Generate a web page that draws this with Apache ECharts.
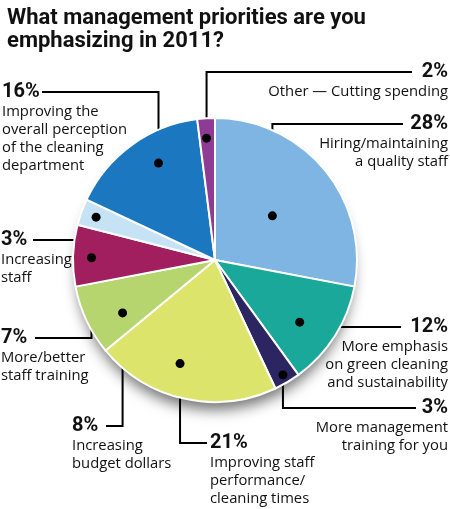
<!DOCTYPE html>
<html>
<head>
<meta charset="utf-8">
<script src="https://cdn.jsdelivr.net/npm/echarts@6/dist/echarts.min.js"></script>
<style>
  html, body { margin: 0; background: #fff; }
  #chart { width: 450px; height: 509px; }
</style>
</head>
<body>
<div id="chart"></div>
<script>
// slices, clockwise from 12 o'clock
const categories = [
  "Hiring/maintaining\na quality staff",
  "More emphasis\non green cleaning\nand sustainability",
  "More management\ntraining for you",
  "Improving staff\nperformance/\ncleaning times",
  "Increasing\nbudget dollars",
  "More/better\nstaff training",
  "Increasing\nstaff",
  "Improving the\noverall perception\nof the cleaning\ndepartment",
  "Other \u2014 Cutting spending"
];
const percents = [28, 12, 3, 21, 8, 7, 3, 16, 2];
const colors = ["#7fb5e2", "#1aa89a", "#2b2661", "#dde46b", "#b7d56e", "#a11f5f", "#c5e3f5", "#1b78c0", "#8e3b96"];

// label anchor: [x, y of the percent line, align, x where the leader ends]
const labelSpots = [
  [448, 124, "right", 403],
  [448, 327, "right", 401],
  [448, 408, "right", 416],
  [210, 443, "left", 207],
  [72, 426, "left", 106],
  [1, 338, "left", 35],
  [1, 240, "left", 33],
  [2, 92, "left", 42],
  [448, 72, "right", 412]
];
// dot inside the slice: [share of the slice angle, share of the radius]
const dotSpots = [
  [0.52, 0.51], [0.59, 0.74], [0.5, 0.94], [0.58, 0.77], [0.34, 0.75],
  [0.47, 0.87], [0.5, 0.89], [0.6, 0.79], [0.45, 0.86]
];

const cx = 215, cy = 260, R = 142;
const total = percents.reduce((a, b) => a + b, 0);

function dotPoint(i) {
  let before = 0;
  for (let k = 0; k < i; k++) before += percents[k];
  const a = (before + percents[i] * dotSpots[i][0]) / total * Math.PI * 2;
  const r = R * dotSpots[i][1];
  return [cx + r * Math.sin(a), cy - r * Math.cos(a)];
}

const chart = echarts.init(document.getElementById("chart"));

const dots = percents.map((v, i) => {
  const p = dotPoint(i);
  return { type: "circle", z: 100, shape: { cx: p[0], cy: p[1], r: 4.5 }, style: { fill: "#000" }, silent: true };
});

chart.setOption({
  animation: false,
  title: {
    text: "What management priorities are you\nemphasizing in 2011?",
    left: 2, top: 2,
    textStyle: { fontFamily: "Roboto", fontWeight: "bold", fontSize: 22, lineHeight: 23, color: "#111" }
  },
  graphic: [
    {
      type: "circle", z: 0, silent: true,
      shape: { cx: cx, cy: cy + 2, r: R - 4 },
      style: { fill: "#fff", shadowColor: "rgba(0,0,0,0.55)", shadowBlur: 14, shadowOffsetY: 10 }
    }
  ].concat(dots),
  series: [{
    type: "pie",
    center: [cx, cy],
    radius: R,
    startAngle: 90,
    clockwise: true,
    avoidLabelOverlap: false,
    itemStyle: { borderColor: "#fff", borderWidth: 2 },
    label: {
      show: true,
      position: "outside",
      formatter: p => "{p|" + p.value + "%}\n{t|" + p.name.split("\n").join("}\n{t|") + "}",
      rich: {
        p: { fontFamily: "Roboto", fontWeight: "bold", fontSize: 20, lineHeight: 21, color: "#111" },
        t: { fontFamily: "Open Sans", fontSize: 14.8, lineHeight: 18, color: "#111" }
      }
    },
    labelLine: { show: true, smooth: false, lineStyle: { color: "#000", width: 2 } },
    labelLayout: params => {
      const i = params.dataIndex;
      const s = labelSpots[i];
      const d = dotPoint(i);
      return {
        x: s[0],
        y: s[1] - 10.5,
        align: s[2],
        verticalAlign: "top",
        labelLinePoints: [d, [d[0], s[1]], [s[3], s[1]]]
      };
    },
    emphasis: { disabled: true },
    data: percents.map((v, i) => ({ name: categories[i], value: v, itemStyle: { color: colors[i] } }))
  }]
});
</script>
</body>
</html>
